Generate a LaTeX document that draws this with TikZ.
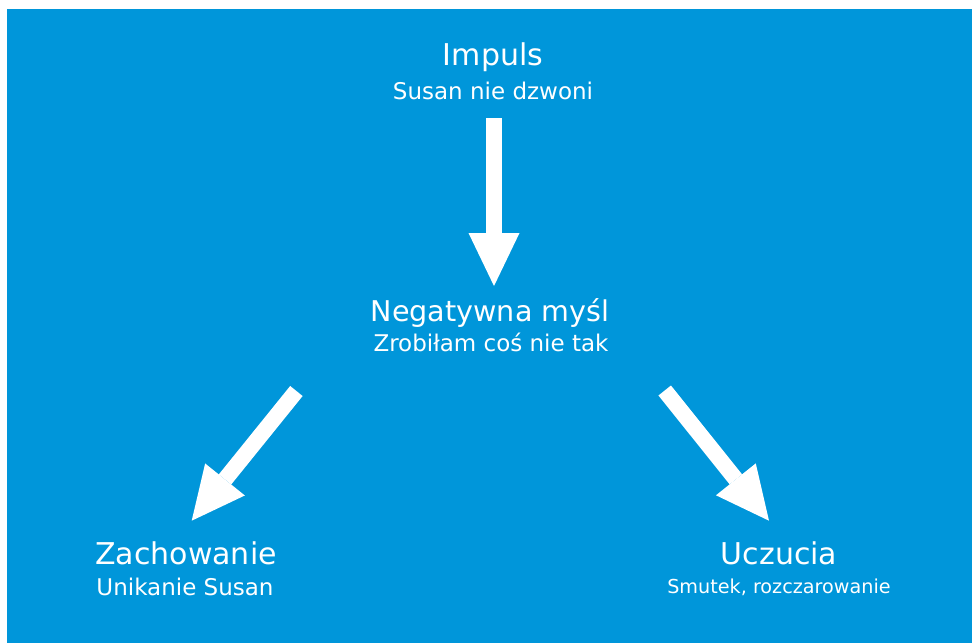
\documentclass[tikz,border=0pt]{standalone}
\usepackage{fontspec}
\setmainfont{DejaVu Sans}
\usetikzlibrary{arrows.meta}
\definecolor{bgblue}{RGB}{0,150,218}
\begin{document}
\begin{tikzpicture}[x=1pt,y=-1pt,
  title/.style={text=white, font=\fontsize{30}{36}\selectfont, anchor=base, inner sep=0pt},
  sub/.style={text=white, font=\fontsize{23}{28}\selectfont, anchor=base, inner sep=0pt},
  blockarrow/.style={draw=white, line width=16pt, line cap=butt,
    -{Triangle[width=51pt,length=53pt,line width=0pt]}}]
\useasboundingbox (0,0) rectangle (972,643);
\fill[bgblue] (7,9) rectangle (972,643);
% texts
\node[title] (imp) at (493,65) {Impuls};
\node[sub] (impsub) at (493,99) {Susan nie dzwoni};
\node[title, font=\fontsize{28.6}{34}\selectfont] (neg) at (490,321.7) {Negatywna myśl};
\node[sub] (negsub) at (491,351.7) {Zrobiłam coś nie tak};
\node[title] (zach) at (186,564.3) {Zachowanie};
\node[sub] (zachsub) at (185,595.7) {Unikanie Susan};
\node[title] (ucz) at (779,564) {Uczucia};
\node[sub, font=\fontsize{19.2}{24}\selectfont] (uczsub) at (779,593.3) {Smutek, rozczarowanie};
% arrow ends
\coordinate (a1s) at (494,118);
\coordinate (a1e) at (494,286);
\coordinate (a2s) at (296.4,391);
\coordinate (a2e) at (191.7,520.7);
\coordinate (a3s) at (664.7,390.5);
\coordinate (a3e) at (769,520.7);
\draw[blockarrow] (a1s) -- (a1e);
\draw[blockarrow] (a2s) -- (a2e);
\draw[blockarrow] (a3s) -- (a3e);
\end{tikzpicture}
\end{document}
